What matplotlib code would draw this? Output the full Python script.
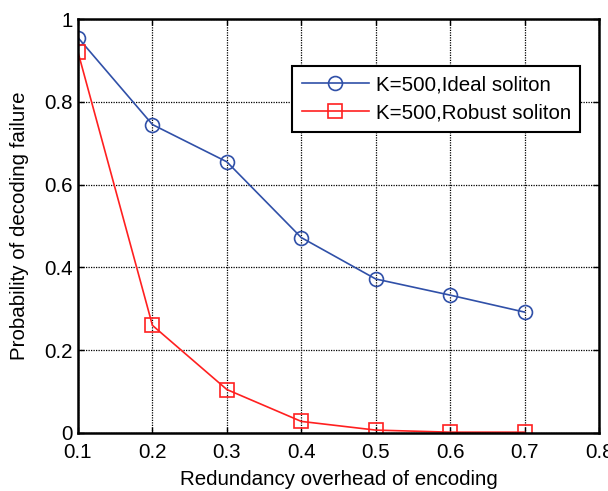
import matplotlib
matplotlib.use("Agg")
import matplotlib.pyplot as plt

x = [0.1, 0.2, 0.3, 0.4, 0.5, 0.6, 0.7]
ideal = [0.955, 0.745, 0.655, 0.472, 0.372, 0.333, 0.292]
robust = [0.92, 0.26, 0.105, 0.028, 0.007, 0.002, 0.002]
xticks = [0.1, 0.2, 0.3, 0.4, 0.5, 0.6, 0.7, 0.8]
yticks = [0, 0.2, 0.4, 0.6, 0.8, 1]
ytick_labels = ["0", "0.2", "0.4", "0.6", "0.8", "1"]

plt.rcParams['font.family'] = ['Liberation Sans', 'DejaVu Sans']
FS = 14.8

fig = plt.figure(figsize=(6.08, 4.91), dpi=100)
ax = fig.add_axes([78/608, 1-433/491, (599-78)/608, (433-19)/491])

ax.plot(x, ideal, color='#3050a8', lw=1.2, marker='o', ms=10, mfc='none', mec='#3050a8', mew=1.2,
        label='K=500,Ideal soliton')
ax.plot(x, robust, color='#ff2020', lw=1.2, marker='s', ms=10, mfc='none', mec='#ff2020', mew=1.2,
        label='K=500,Robust soliton')

ax.set_xlim(0.1, 0.8)
ax.set_ylim(0, 1)
ax.set_xticks(xticks)
ax.set_xticklabels([str(t) for t in xticks])
ax.set_yticks(yticks)
ax.set_yticklabels(ytick_labels)
ax.grid(True, color='black', linestyle=(0, (1, 1)), linewidth=0.9)
ax.tick_params(direction='in', top=True, right=True, labelsize=FS, length=4, width=1)
ax.tick_params(axis='x', pad=7)
ax.tick_params(axis='y', pad=4)
for s in ax.spines.values():
    s.set_linewidth(1.8)

ax.set_xlabel('Redundancy overhead of encoding', fontsize=FS, labelpad=6)
ax.set_ylabel('Probability of decoding failure', fontsize=FS, labelpad=11)

leg = ax.legend(loc='upper right', fontsize=FS, fancybox=False, edgecolor='black', framealpha=1,
                handlelength=3.3, borderpad=0.45, labelspacing=0.45, handletextpad=0.3,
                borderaxespad=0)
leg.get_frame().set_linewidth(1.5)
leg.set_bbox_to_anchor((580/608, 1-66/491), transform=fig.transFigure)

fig.savefig('out.png', dpi=100)
